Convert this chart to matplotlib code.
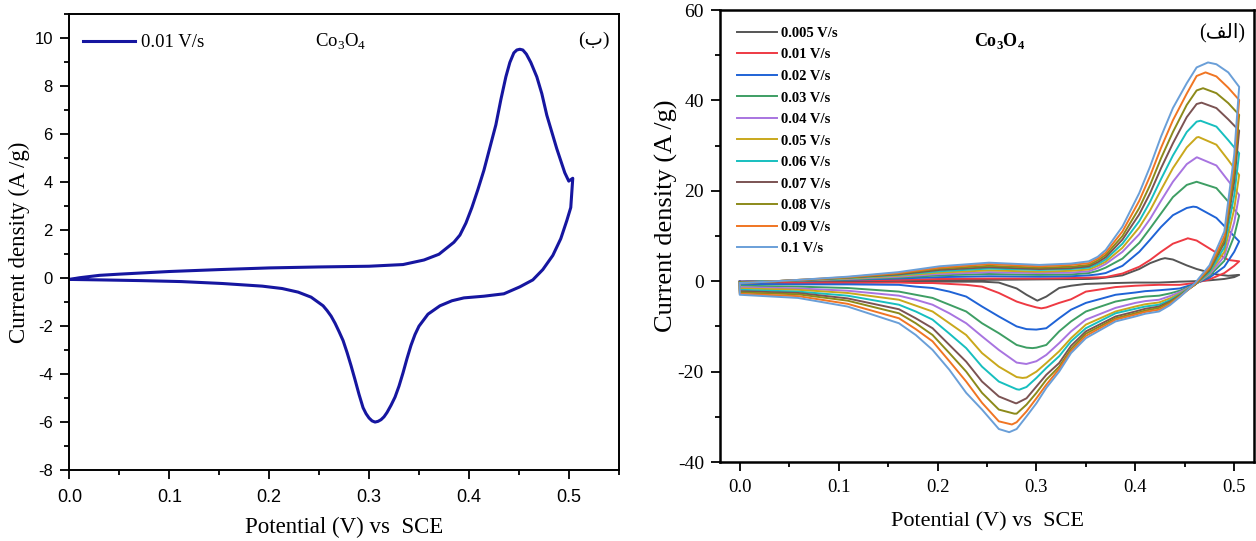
import numpy as np
import matplotlib
matplotlib.use("Agg")
import matplotlib.pyplot as plt
from matplotlib.ticker import MultipleLocator, FormatStrFormatter

plt.rcParams["font.family"] = ["Liberation Serif", "DejaVu Sans"]
plt.rcParams["mathtext.fontset"] = "custom"
plt.rcParams["mathtext.rm"] = "Liberation Serif"
plt.rcParams["mathtext.bf"] = "Liberation Serif:bold"
plt.rcParams["axes.unicode_minus"] = False

# ---- panel (ب): one CV loop at 0.01 V/s
LEFT_FWD_V = [0.0, 0.01, 0.03, 0.05, 0.10, 0.15, 0.20, 0.25, 0.30, 0.334, 0.355, 0.37,
              0.379, 0.385, 0.391, 0.397, 0.403, 0.409, 0.415, 0.421, 0.427, 0.432,
              0.437, 0.441, 0.445, 0.448, 0.451, 0.454, 0.4575, 0.462, 0.468, 0.473,
              0.478, 0.483, 0.488, 0.492, 0.496, 0.500, 0.504]
LEFT_FWD_I = [-0.05, 0.02, 0.12, 0.17, 0.28, 0.36, 0.43, 0.47, 0.50, 0.57, 0.76, 1.0,
              1.3, 1.5, 1.8, 2.3, 2.95, 3.7, 4.5, 5.45, 6.4, 7.45,
              8.4, 9.0, 9.4, 9.52, 9.55, 9.52, 9.35, 9.0, 8.4, 7.7,
              6.8, 6.1, 5.4, 4.9, 4.4, 4.05, 4.17]
LEFT_REV_V = [0.502, 0.498, 0.492, 0.484, 0.474, 0.464, 0.451, 0.435, 0.415, 0.395,
              0.383, 0.371, 0.359, 0.350, 0.346, 0.342, 0.338, 0.334, 0.330, 0.326,
              0.322, 0.318, 0.315, 0.312, 0.309, 0.306, 0.303, 0.300, 0.297, 0.294,
              0.290, 0.286, 0.282, 0.278, 0.274, 0.270, 0.266, 0.262, 0.258, 0.254,
              0.242, 0.229, 0.213, 0.193, 0.153, 0.112, 0.072, 0.031, 0.0]
LEFT_REV_I = [2.95, 2.4, 1.65, 0.95, 0.36, -0.07, -0.36, -0.65, -0.75, -0.82,
              -0.94, -1.15, -1.5, -2.0, -2.35, -2.8, -3.35, -3.95, -4.5, -4.96,
              -5.3, -5.6, -5.78, -5.9, -5.97, -6.0, -5.95, -5.83, -5.65, -5.4,
              -4.85, -4.24, -3.65, -3.1, -2.6, -2.23, -1.88, -1.58, -1.35, -1.15,
              -0.79, -0.58, -0.43, -0.33, -0.22, -0.14, -0.10, -0.07, -0.05]

# ---- panel (الف): CV loops at 11 scan rates
SCAN_RATES = ["0.005 V/s", "0.01 V/s", "0.02 V/s", "0.03 V/s", "0.04 V/s", "0.05 V/s",
              "0.06 V/s", "0.07 V/s", "0.08 V/s", "0.09 V/s", "0.1 V/s"]
COLORS = ["#555555", "#ee3a43", "#1f63d6", "#3e9e64", "#a874e0", "#c9a81c",
          "#17bfbf", "#7b5353", "#8c8a1a", "#f07523", "#6a9fd8"]

# forward sweep: rows follow FWD_V, columns follow SCAN_RATES
FWD_V = [0.0, 0.02, 0.06, 0.109, 0.16, 0.202, 0.252, 0.303, 0.335, 0.353, 0.362,
         0.37, 0.387, 0.404, 0.415, 0.426, 0.438, 0.452, 0.462]
FWD_I = [
    [-0.1, -0.1, -0.1, -0.2, -0.2, -0.2, -0.3, -0.3, -0.3, -0.4, -0.4],
    [0.0, 0.0, 0.0, -0.1, -0.1, -0.1, -0.1, -0.2, -0.2, -0.2, -0.2],
    [0.0, 0.1, 0.1, 0.1, 0.2, 0.2, 0.2, 0.2, 0.3, 0.3, 0.3],
    [0.1, 0.2, 0.3, 0.4, 0.5, 0.6, 0.7, 0.8, 0.8, 0.9, 1.0],
    [0.2, 0.3, 0.6, 0.8, 1.0, 1.2, 1.4, 1.5, 1.7, 1.8, 2.0],
    [0.3, 0.5, 0.9, 1.3, 1.6, 1.9, 2.2, 2.5, 2.8, 3.0, 3.3],
    [0.3, 0.6, 1.1, 1.6, 2.0, 2.4, 2.8, 3.1, 3.4, 3.8, 4.1],
    [0.4, 0.6, 1.0, 1.4, 1.8, 2.1, 2.5, 2.7, 3.0, 3.3, 3.6],
    [0.45, 0.7, 1.1, 1.5, 1.9, 2.3, 2.7, 2.9, 3.2, 3.6, 3.9],
    [0.5, 0.8, 1.3, 1.8, 2.2, 2.6, 3.0, 3.3, 3.6, 4.0, 4.4],
    [0.6, 0.85, 1.5, 2.3, 2.9, 3.4, 3.8, 4.2, 4.6, 5.0, 5.4],
    [0.8, 0.9, 1.8, 3.0, 3.8, 4.3, 4.8, 5.3, 5.8, 6.3, 6.9],
    [1.3, 1.7, 3.4, 5.0, 6.5, 7.4, 8.3, 9.2, 10.0, 11.0, 12.1],
    [2.7, 3.2, 6.5, 8.5, 10.4, 11.9, 13.3, 14.8, 16.2, 17.8, 19.5],
    [4.0, 4.7, 9.2, 11.7, 13.8, 15.7, 17.6, 19.5, 21.3, 23.3, 25.4],
    [4.9, 6.5, 12.0, 15.0, 17.8, 20.2, 22.6, 25.0, 27.2, 29.5, 32.0],
    [4.8, 8.3, 14.6, 18.6, 22.0, 25.0, 27.8, 30.5, 33.0, 35.6, 38.3],
    [3.5, 9.4, 16.2, 21.3, 25.9, 29.6, 33.0, 36.3, 39.0, 41.5, 43.8],
    [2.7, 9.0, 16.4, 22.0, 27.4, 31.8, 35.3, 39.2, 42.2, 45.4, 47.3],
]
# anodic peaks
PEAK_V = [0.430, 0.453, 0.4585, 0.462, 0.4625, 0.464, 0.466, 0.467, 0.4685, 0.471, 0.4735]
PEAK_I = [5.1, 9.5, 16.5, 22.0, 27.4, 31.9, 35.5, 39.5, 42.7, 46.2, 48.4]
# between the peak and the vertex
FALL_V = [0.482, 0.494]
FALL_I = [
    [1.5, 6.3, 14.0, 20.6, 25.6, 30.2, 34.2, 38.3, 41.6, 45.3, 48.0],
    [1.2, 4.7, 11.3, 17.6, 22.2, 26.8, 31.2, 35.8, 39.4, 42.8, 46.2],
]
VERTEX_V = 0.505
VERTEX_I = [1.4, 4.4, 8.8, 14.5, 19.1, 23.5, 28.3, 33.3, 36.8, 40.1, 43.0]

# reverse sweep: rows follow REV_V
REV_V = [0.50, 0.49, 0.475, 0.46, 0.445, 0.435, 0.424, 0.41, 0.40, 0.38, 0.35,
         0.335, 0.323, 0.31, 0.30, 0.29, 0.28, 0.262, 0.245, 0.229, 0.212, 0.195,
         0.178, 0.161, 0.109, 0.059, 0.0]
REV_I = [
    [0.9, 3.4, 6.5, 10.0, 13.0, 16.0, 19.0, 22.0, 24.0, 26.0, 28.0],
    [0.5, 1.8, 3.2, 4.5, 5.5, 6.5, 7.5, 8.5, 9.0, 10.0, 11.0],
    [0.2, 0.4, 0.8, 1.2, 1.5, 1.8, 2.0, 2.4, 2.7, 3.0, 3.5],
    [0.0, -0.4, -0.6, -0.7, -0.8, -0.8, -0.8, -0.8, -0.8, -0.7, -0.5],
    [-0.1, -0.8, -1.6, -2.1, -2.4, -2.7, -2.9, -3.1, -3.2, -3.4, -3.5],
    [-0.2, -0.8, -1.8, -2.7, -3.3, -3.8, -4.2, -4.5, -4.7, -5.0, -5.3],
    [-0.3, -0.8, -2.0, -3.2, -4.1, -4.7, -5.2, -5.6, -5.9, -6.3, -6.7],
    [-0.3, -0.9, -2.2, -3.4, -4.4, -5.1, -5.6, -6.1, -6.5, -6.8, -7.2],
    [-0.3, -1.0, -2.5, -3.7, -4.8, -5.6, -6.1, -6.7, -7.1, -7.4, -7.8],
    [-0.4, -1.3, -3.0, -4.5, -5.9, -6.7, -7.1, -7.8, -8.2, -8.5, -8.9],
    [-0.6, -2.3, -4.8, -6.7, -8.5, -9.6, -10.4, -11.1, -11.6, -12.1, -12.6],
    [-1.0, -4.0, -6.3, -8.9, -11.1, -12.6, -13.3, -14.3, -15.0, -15.5, -15.9],
    [-1.5, -4.8, -8.2, -11.1, -13.7, -15.5, -16.6, -18.1, -18.9, -19.4, -20.0],
    [-3.4, -5.8, -10.4, -14.1, -16.3, -18.1, -19.2, -20.7, -21.8, -22.9, -23.6],
    [-4.2, -5.8, -10.7, -14.7, -17.7, -20.0, -21.4, -23.3, -24.7, -25.9, -27.0],
    [-3.0, -5.2, -10.6, -14.7, -18.3, -21.3, -23.4, -25.9, -27.3, -28.8, -29.9],
    [-1.6, -4.5, -10.0, -14.1, -18.0, -21.2, -23.9, -27.0, -29.3, -31.2, -32.7],
    [-0.3, -2.6, -7.8, -11.5, -15.2, -18.9, -22.2, -25.5, -28.4, -31.0, -32.7],
    [-0.1, -1.2, -5.6, -9.3, -12.2, -15.9, -18.9, -22.2, -24.7, -26.9, -28.4],
    [-0.1, -0.8, -3.4, -6.7, -9.3, -11.9, -14.8, -17.8, -20.0, -22.2, -24.7],
    [-0.1, -0.6, -2.3, -5.2, -7.1, -9.3, -11.6, -14.1, -15.9, -17.7, -19.6],
    [-0.1, -0.4, -1.5, -3.7, -5.2, -6.7, -8.5, -10.4, -11.9, -13.3, -15.2],
    [-0.1, -0.4, -1.2, -3.0, -4.1, -5.4, -6.7, -8.2, -9.3, -10.6, -11.9],
    [-0.1, -0.3, -0.8, -2.3, -3.2, -4.1, -5.2, -6.2, -7.1, -8.2, -9.3],
    [-0.2, -0.4, -0.7, -1.5, -2.1, -2.6, -3.2, -3.8, -4.3, -5.0, -5.6],
    [-0.2, -0.4, -0.7, -1.2, -1.6, -1.9, -2.3, -2.6, -2.9, -3.3, -3.7],
    [-0.2, -0.4, -0.6, -1.0, -1.3, -1.6, -1.9, -2.2, -2.5, -2.8, -3.0],
]
# cathodic peaks
CATH_V = [0.301, 0.305, 0.2995, 0.296, 0.2894, 0.286, 0.2826, 0.279, 0.2776, 0.2752, 0.2725]
CATH_I = [-4.3, -6.0, -10.7, -14.8, -18.3, -21.4, -24.0, -27.0, -29.3, -31.7, -33.4]


def cv_loop(k):
    fv = np.array(FWD_V + [PEAK_V[k]] + FALL_V + [VERTEX_V])
    fi = np.array([r[k] for r in FWD_I] + [PEAK_I[k]] + [r[k] for r in FALL_I] + [VERTEX_I[k]])
    o = np.argsort(fv, kind="stable")
    rv = np.array(REV_V + [CATH_V[k]])
    ri = np.array([r[k] for r in REV_I] + [CATH_I[k]])
    ro = np.argsort(-rv, kind="stable")
    # close the loop at 0 V
    v = np.r_[fv[o], rv[ro], fv[o][0]]
    i = np.r_[fi[o], ri[ro], fi[o][0]]
    return v, i


def style_axes(ax, tick_family):
    for s in ax.spines.values():
        s.set_linewidth(1.4)
    ax.tick_params(which="both", direction="out", top=False, right=False,
                   width=1.3, labelfontfamily=tick_family)
    ax.tick_params(which="major", length=6.5)
    ax.tick_params(which="minor", length=3.5)


fig = plt.figure(figsize=(12.56, 5.41), dpi=100)

# ---------- left panel
ax1 = fig.add_axes([0.0553, 0.1312, 0.4373, 0.842])
ax1.plot(LEFT_FWD_V + LEFT_REV_V, LEFT_FWD_I + LEFT_REV_I, color="#1616a0", lw=2.2,
         label="0.01 V/s")
ax1.set_xlim(0, 0.55)
ax1.set_ylim(-8, 11)
ax1.xaxis.set_major_locator(MultipleLocator(0.1))
ax1.xaxis.set_minor_locator(MultipleLocator(0.05))
ax1.yaxis.set_major_locator(MultipleLocator(2))
ax1.yaxis.set_minor_locator(MultipleLocator(1))
ax1.xaxis.set_major_formatter(FormatStrFormatter("%.1f"))
style_axes(ax1, "Liberation Sans")
ax1.tick_params(axis="x", pad=7, labelsize=13)
ax1.tick_params(axis="y", pad=5.5, labelsize=12)
ax1.set_xlabel("Potential (V) vs  SCE", fontsize=16.5)
ax1.set_ylabel("Current density (A /g)", fontsize=16.5)
ax1.xaxis.set_label_coords(0.5, -0.103)
ax1.yaxis.set_label_coords(-0.072, 0.5)
ax1.legend(loc="upper left", bbox_to_anchor=(0.024, 0.957), frameon=False,
           fontsize=13.5, handlelength=2.8, handletextpad=0.3, borderpad=0,
           borderaxespad=0)
ax1.text(0.493, 0.94, "Co$_\\mathrm{3}$O$_\\mathrm{4}$", transform=ax1.transAxes,
         fontsize=13.5, ha="center", va="center")
ax1.text(0.955, 0.944, "(ب)", transform=ax1.transAxes, fontsize=14,
         ha="center", va="center", family=["Liberation Serif", "DejaVu Sans"])

# ---------- right panel
ax2 = fig.add_axes([0.5732, 0.146, 0.4252, 0.8355])
for k, (lab, col) in enumerate(zip(SCAN_RATES, COLORS)):
    v, i = cv_loop(k)
    ax2.plot(v, i, color=col, lw=1.4, label=lab)
ax2.set_xlim(-0.02, 0.52)
ax2.set_ylim(-40, 60)
ax2.xaxis.set_major_locator(MultipleLocator(0.1))
ax2.xaxis.set_minor_locator(MultipleLocator(0.05))
ax2.yaxis.set_major_locator(MultipleLocator(20))
ax2.yaxis.set_minor_locator(MultipleLocator(10))
ax2.xaxis.set_major_formatter(FormatStrFormatter("%.1f"))
style_axes(ax2, "Liberation Serif")
for s in ax2.spines.values():
    s.set_linewidth(1.8)
ax2.tick_params(axis="x", pad=6, labelsize=13.5)
ax2.tick_params(axis="y", pad=5, labelsize=14)
ax2.set_xlabel("Potential (V) vs  SCE", fontsize=16)
ax2.set_ylabel("Current density (A /g)", fontsize=19)
ax2.xaxis.set_label_coords(0.501, -0.11)
ax2.yaxis.set_label_coords(-0.078, 0.544)
ax2.legend(loc="upper left", bbox_to_anchor=(0.032, 0.963), frameon=False,
           prop={"family": "Liberation Serif", "weight": "bold", "size": 10.5},
           handlelength=2.75, handletextpad=0.25, labelspacing=0.57,
           borderpad=0, borderaxespad=0)
ax2.text(0.524, 0.931, "Co$_\\mathbf{3}$O$_\\mathbf{4}$", transform=ax2.transAxes,
         fontsize=13, fontweight="bold", ha="center", va="center")
# Arabic "(الف)" in visual order with presentation forms (matplotlib does no shaping)
ax2.text(0.94, 0.949, "(\ufed2\ufedf\ufe8d)", transform=ax2.transAxes, fontsize=14.5,
         ha="center", va="center", family=["Liberation Serif", "DejaVu Sans"])

fig.savefig("out.png", dpi=100)
